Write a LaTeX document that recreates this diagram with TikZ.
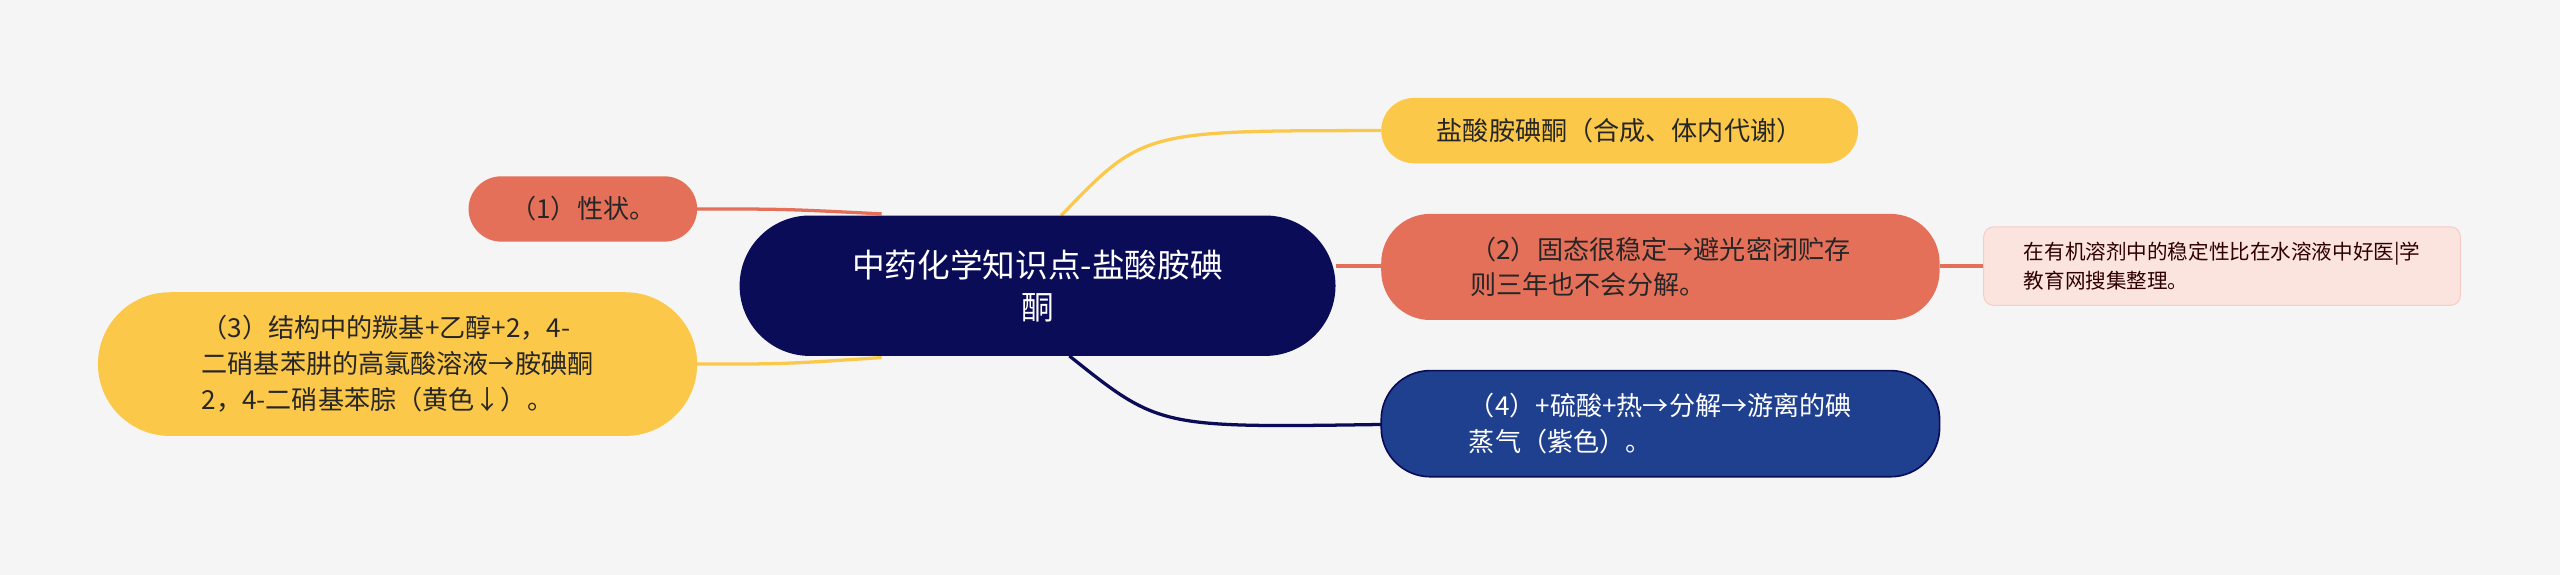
\documentclass[tikz,border=0pt]{standalone}
\usepackage{fontspec}
\setmainfont{Noto Sans CJK SC}
\definecolor{bg}{HTML}{F5F5F5}
\definecolor{navy}{HTML}{0A0C58}
\definecolor{yel}{HTML}{FCC84A}
\definecolor{sal}{HTML}{E5705A}
\definecolor{blu}{HTML}{1F3F8F}
\definecolor{pink}{HTML}{FBE3DE}
\begin{document}
\begin{tikzpicture}[x=0.5pt,y=-0.5pt,
 box/.style={rounded corners=20*0.5pt,inner sep=0pt,font=\fontsize{8}{11}\selectfont,align=left},
 ln/.style={line width=1pt}]
\fill[bg] (0,0) rectangle (1568,352);
\useasboundingbox (0,0) rectangle (1568,352);
% connectors
\coordinate (c1) at (650,132); \coordinate (c2) at (540,131);
\coordinate (c3) at (540,219); \coordinate (c4) at (655,218);
\draw[ln,yel] (c1) .. controls (700,80) .. (846,80);
\draw[ln,sal] (c2) .. controls (480,128) .. (427,128);
\draw[ln,sal] (818,163) -- (846,163);
\draw[ln,yel] (c3) .. controls (480,223) .. (427,223);
\draw[ln,navy] (c4) .. controls (710,262) .. (846,260);
\draw[ln,sal] (1188,163) -- (1215,163);
% nodes
\node[box,fill=navy,text=white,minimum width=365*0.5pt,minimum height=86*0.5pt,rounded corners=43*0.5pt,font=\fontsize{10}{13}\selectfont,align=center] (c) at (635.5,175) {中药化学知识点-盐酸胺碘\\酮};
\node[box,fill=yel,text=black!85,minimum width=292*0.5pt,minimum height=40*0.5pt] (a) at (992,80) {盐酸胺碘酮（合成、体内代谢）};
\node[box,fill=sal,text=black!85,minimum width=140*0.5pt,minimum height=40*0.5pt] (b) at (357,128) {（1）性状。};
\node[box,fill=sal,text=black!85,minimum width=342*0.5pt,minimum height=65*0.5pt,rounded corners=30*0.5pt] (d) at (1017,163.5) {（2）固态很稳定→避光密闭贮存\\则三年也不会分解。};
\node[box,fill=pink,draw=pink!80!sal,line width=0.3pt,text=black!70!red!60!black,rounded corners=3pt,minimum width=292*0.5pt,minimum height=48*0.5pt,font=\fontsize{6.3}{9}\selectfont] (n) at (1361,163) {在有机溶剂中的稳定性比在水溶液中好医|学\\教育网搜集整理。};
\node[box,fill=yel,text=black!85,minimum width=367*0.5pt,minimum height=88*0.5pt,rounded corners=44*0.5pt] (e) at (243.5,223) {（3）结构中的羰基+乙醇+2，4-\\二硝基苯肼的高氯酸溶液→胺碘酮\\2，4-二硝基苯腙（黄色↓）。};
\node[box,fill=blu,draw=navy,line width=0.5pt,text=white,minimum width=342*0.5pt,minimum height=65*0.5pt,rounded corners=30*0.5pt] (f) at (1017,259.5) {（4）+硫酸+热→分解→游离的碘\\蒸气（紫色）。};
\end{tikzpicture}
\end{document}
